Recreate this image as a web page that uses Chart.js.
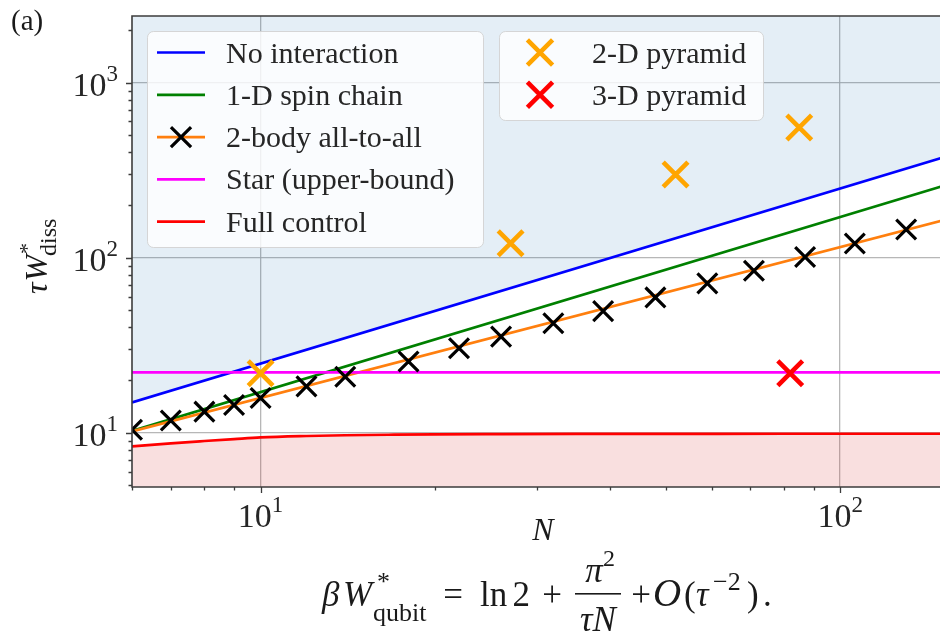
<!DOCTYPE html>
<html>

<head>
  <title>Dissipated work vs N</title>
  <script src="https://cdn.jsdelivr.net/npm/chart.js"></script>
  <style>
    body { margin: 0; background: #fff; }
  </style>
</head>

<body>
  <canvas id="myChart" width="940" height="633"></canvas>
  <script>
    // values
    var lineN = [6, 150];
    var noInteraction = [14.9, 372];
    var spinChain = [10.25, 256];
    var allToAllFit = [10.17, 163];
    var starBound = [22.1, 22.1];
    var fullControlN = [6, 7, 8, 9, 10, 12, 14, 17, 20, 25, 35, 50, 80, 150];
    var fullControlW = [8.35, 8.7, 8.97, 9.2, 9.4, 9.58, 9.68, 9.75, 9.79, 9.82, 9.85, 9.86, 9.87, 9.87];
    var allToAllN = [6, 7, 8, 9, 10, 12, 14, 18, 22, 26, 32, 39, 48, 59, 71, 87, 106, 130];
    var allToAllW = [10.4, 11.75, 13.2, 14.4, 15.8, 18.4, 20.9, 25.5, 30.4, 35.4, 42.2, 49.5, 59.3, 71.3, 84.1, 101, 120.5, 144.8];
    var pyramid2dN = [10, 27, 52, 85];
    var pyramid2dW = [21.9, 121, 299, 554];
    var pyramid3dN = [82];
    var pyramid3dW = [21.9];

    var xTickLabels = [10, 100];
    var yTickLabels = [10, 100, 1000];
    var legendLeft = ['No interaction', '1-D spin chain', '2-body all-to-all', 'Star (upper-bound)', 'Full control'];
    var legendRight = ['2-D pyramid', '3-D pyramid'];

    var SERIF = '"Liberation Serif", "Times New Roman", serif';

    function pts(xs, ys) {
      return xs.map(function (x, i) { return { x: x, y: ys[i] }; });
    }

    function isDecade(v) {
      var l = Math.log10(v);
      return Math.abs(l - Math.round(l)) < 1e-9;
    }

    function drawX(ctx, cx, cy, half, color, width) {
      ctx.save();
      ctx.strokeStyle = color;
      ctx.lineWidth = width;
      ctx.beginPath();
      ctx.moveTo(cx - half, cy - half); ctx.lineTo(cx + half, cy + half);
      ctx.moveTo(cx - half, cy + half); ctx.lineTo(cx + half, cy - half);
      ctx.stroke();
      ctx.restore();
    }

    function put(ctx, s, x, y, font) {
      ctx.font = font;
      ctx.fillText(s, x, y);
      return x + ctx.measureText(s).width;
    }

    function roundBox(ctx, x, y, w, h, r) {
      ctx.beginPath();
      ctx.moveTo(x + r, y);
      ctx.arcTo(x + w, y, x + w, y + h, r);
      ctx.arcTo(x + w, y + h, x, y + h, r);
      ctx.arcTo(x, y + h, x, y, r);
      ctx.arcTo(x, y, x + w, y, r);
      ctx.closePath();
      ctx.fillStyle = 'rgba(255,255,255,0.82)';
      ctx.fill();
      ctx.strokeStyle = 'rgba(210,210,210,0.9)';
      ctx.lineWidth = 1;
      ctx.stroke();
    }

    // axes frame, tick marks, tick labels, legends and formula
    var decor = {
      id: 'decor',
      beforeDraw: function (chart) {
        var ctx = chart.ctx;
        ctx.save();
        ctx.fillStyle = '#fff';
        ctx.fillRect(0, 0, chart.width, chart.height);
        ctx.restore();
      },
      afterDatasetsDraw: function (chart) {
        var ctx = chart.ctx, a = chart.chartArea, xs = chart.scales.x, ys = chart.scales.y;
        ctx.save();

        // spines (right one is cut off in the original)
        ctx.strokeStyle = '#3c3c3c';
        ctx.lineWidth = 1.6;
        ctx.beginPath();
        ctx.moveTo(a.right + 2, a.top); ctx.lineTo(a.left, a.top);
        ctx.lineTo(a.left, a.bottom); ctx.lineTo(a.right + 2, a.bottom);
        ctx.stroke();

        // tick marks
        ctx.lineWidth = 1.3;
        ctx.beginPath();
        for (var d = 0; d <= 3; d++) {
          for (var k = 1; k <= 9; k++) {
            var v = k * Math.pow(10, d);
            var len = k === 1 ? 6 : 3.5;
            if (v >= xs.min - 1e-9 && v <= xs.max) {
              var px = Math.round(xs.getPixelForValue(v)) + 0.5;
              ctx.moveTo(px, a.bottom); ctx.lineTo(px, a.bottom + len);
            }
            if (v >= ys.min && v <= ys.max) {
              var py = Math.round(ys.getPixelForValue(v)) + 0.5;
              ctx.moveTo(a.left, py); ctx.lineTo(a.left - len, py);
            }
          }
        }
        ctx.stroke();

        // tick labels 10^n
        ctx.fillStyle = '#262626';
        ctx.textAlign = 'left';
        ctx.textBaseline = 'alphabetic';
        var big = '34px ' + SERIF, small = '23px ' + SERIF;
        xTickLabels.forEach(function (v) {
          var e = String(Math.round(Math.log10(v)));
          ctx.font = big; var w1 = ctx.measureText('10').width;
          ctx.font = small; var w2 = ctx.measureText(e).width;
          var x0 = xs.getPixelForValue(v) - (w1 + w2) / 2;
          put(ctx, '10', x0, a.bottom + 40, big);
          put(ctx, e, x0 + w1, a.bottom + 25, small);
        });
        yTickLabels.forEach(function (v) {
          var e = String(Math.round(Math.log10(v)));
          ctx.font = big; var w1 = ctx.measureText('10').width;
          ctx.font = small; var w2 = ctx.measureText(e).width;
          var yy = ys.getPixelForValue(v);
          var x0 = a.left - 14 - w1 - w2;
          put(ctx, '10', x0, yy + 13, big);
          put(ctx, e, x0 + w1, yy - 2, small);
        });

        // legends
        var ds = chart.data.datasets;
        function entry(label, hx, rowY, tx) {
          var line = ds.find(function (d) { return d.label === label && d.showLine; });
          var mark = ds.find(function (d) { return d.label === label && d.pointRadius > 0; });
          if (line) {
            ctx.strokeStyle = line.borderColor;
            ctx.lineWidth = line.borderWidth;
            ctx.beginPath();
            ctx.moveTo(hx - 24, rowY); ctx.lineTo(hx + 24, rowY);
            ctx.stroke();
          }
          if (mark) {
            drawX(ctx, hx, rowY, mark.pointRadius * 0.72, mark.borderColor, mark.pointBorderWidth);
          }
          ctx.fillStyle = '#262626';
          put(ctx, label, tx, rowY + 10, '30px ' + SERIF);
        }
        roundBox(ctx, 147.5, 31.5, 336, 216, 6);
        legendLeft.forEach(function (lab, i) { entry(lab, 181, 52.5 + i * 42.3, 226); });
        roundBox(ctx, 499.5, 31.5, 264, 89, 6);
        legendRight.forEach(function (lab, i) { entry(lab, 540, 52.5 + i * 42.3, 592); });

        ctx.restore();
      },
      afterDraw: function (chart) {
        var ctx = chart.ctx;
        ctx.save();
        ctx.fillStyle = '#1a1a1a';
        ctx.textBaseline = 'alphabetic';
        ctx.textAlign = 'left';
        var it = 'italic 32px ' + SERIF;

        // panel tag
        put(ctx, '(a)', 11, 30, '29px ' + SERIF);

        // x axis title
        ctx.textAlign = 'center';
        put(ctx, 'N', 543, 540, it);
        ctx.textAlign = 'left';

        // y axis title
        ctx.save();
        ctx.translate(47, 294);
        ctx.rotate(-Math.PI / 2);
        var x = put(ctx, '\u03c4', 0, 0, it);
        x = put(ctx, 'W', x + 1, 0, it);
        put(ctx, '*', x + 1, -13, '22px ' + SERIF);
        put(ctx, 'diss', x - 1, 9, '24px ' + SERIF);
        ctx.restore();

        // formula under the plot
        var fm = '35px ' + SERIF, fi = 'italic 35px ' + SERIF, fs = '26px ' + SERIF;
        var b = 606;
        put(ctx, '\u03b2', 322, b, fi);
        put(ctx, 'W', 343, b, fi);
        put(ctx, '*', 377, b - 16, fs);
        put(ctx, 'qubit', 373, b + 15, fs);
        ctx.textAlign = 'center';
        put(ctx, '=', 453, b, fm);
        ctx.textAlign = 'left';
        put(ctx, 'ln', 480, b, fm);
        put(ctx, '2', 512.5, b, fm);
        ctx.textAlign = 'center';
        put(ctx, '+', 552, b, fm);
        put(ctx, '\u03c0', 594, 582, fi);
        put(ctx, '\u03c4N', 598, 631, fi);
        put(ctx, '+', 641, b, fm);
        ctx.textAlign = 'left';
        put(ctx, '2', 603, 566, '24px ' + SERIF);
        ctx.fillRect(575, 593, 46, 1.6);
        put(ctx, 'O', 653, b, 'italic 39px ' + SERIF);
        put(ctx, '(', 684, b, fm);
        put(ctx, '\u03c4', 696, b, fi);
        put(ctx, '\u22122', 713, b - 16, fs);
        put(ctx, ')', 747, b, fm);
        put(ctx, '.', 763, b, fm);
        ctx.restore();
      }
    };

    var ctx = document.getElementById('myChart').getContext('2d');
    var chart = new Chart(ctx, {
      type: 'scatter',
      data: {
        datasets: [{
          label: 'No interaction',
          data: pts(lineN, noInteraction),
          showLine: true,
          borderColor: '#0000ff',
          borderWidth: 2.7,
          pointRadius: 0,
          fill: 'end',
          backgroundColor: 'rgba(31,119,180,0.12)',
          order: 6
        }, {
          label: '1-D spin chain',
          data: pts(lineN, spinChain),
          showLine: true,
          borderColor: '#008000',
          borderWidth: 2.7,
          pointRadius: 0,
          order: 5
        }, {
          label: '2-body all-to-all',
          data: pts(lineN, allToAllFit),
          showLine: true,
          borderColor: '#ff7f0e',
          borderWidth: 2.7,
          pointRadius: 0,
          order: 4
        }, {
          label: '2-body all-to-all',
          data: pts(allToAllN, allToAllW),
          showLine: false,
          pointStyle: 'crossRot',
          pointRadius: 14,
          pointBorderWidth: 3.2,
          borderColor: '#000000',
          backgroundColor: '#000000',
          order: 1
        }, {
          label: 'Star (upper-bound)',
          data: pts(lineN, starBound),
          showLine: true,
          borderColor: '#ff00ff',
          borderWidth: 2.7,
          pointRadius: 0,
          order: 3
        }, {
          label: 'Full control',
          data: pts(fullControlN, fullControlW),
          showLine: true,
          borderColor: '#ff0000',
          borderWidth: 2.7,
          pointRadius: 0,
          cubicInterpolationMode: 'monotone',
          fill: 'start',
          backgroundColor: 'rgba(214,39,40,0.15)',
          order: 2
        }, {
          label: '2-D pyramid',
          data: pts(pyramid2dN, pyramid2dW),
          showLine: false,
          pointStyle: 'crossRot',
          pointRadius: 17.5,
          pointBorderWidth: 4.6,
          borderColor: '#ffa500',
          backgroundColor: '#ffa500',
          order: 0
        }, {
          label: '3-D pyramid',
          data: pts(pyramid3dN, pyramid3dW),
          showLine: false,
          pointStyle: 'crossRot',
          pointRadius: 17.5,
          pointBorderWidth: 4.6,
          borderColor: '#ff0000',
          backgroundColor: '#ff0000',
          order: 0
        }]
      },
      options: {
        responsive: false,
        animation: false,
        events: [],
        layout: { autoPadding: false, padding: { left: 132, top: 16, right: 0, bottom: 146 } },
        plugins: {
          legend: { display: false },
          tooltip: { enabled: false }
        },
        scales: {
          x: {
            type: 'logarithmic',
            min: 6,
            max: 148.7,
            ticks: { display: false },
            border: { display: false },
            grid: {
              drawTicks: false,
              lineWidth: 1.3,
              color: function (c) { return c.tick && isDecade(c.tick.value) ? 'rgba(170,170,170,0.85)' : 'rgba(0,0,0,0)'; }
            }
          },
          y: {
            type: 'logarithmic',
            min: 4.9,
            max: 2400,
            ticks: { display: false },
            border: { display: false },
            grid: {
              drawTicks: false,
              lineWidth: 1.3,
              color: function (c) { return c.tick && isDecade(c.tick.value) ? 'rgba(170,170,170,0.85)' : 'rgba(0,0,0,0)'; }
            }
          }
        }
      },
      plugins: [decor]
    });
  </script>
</body>

</html>
